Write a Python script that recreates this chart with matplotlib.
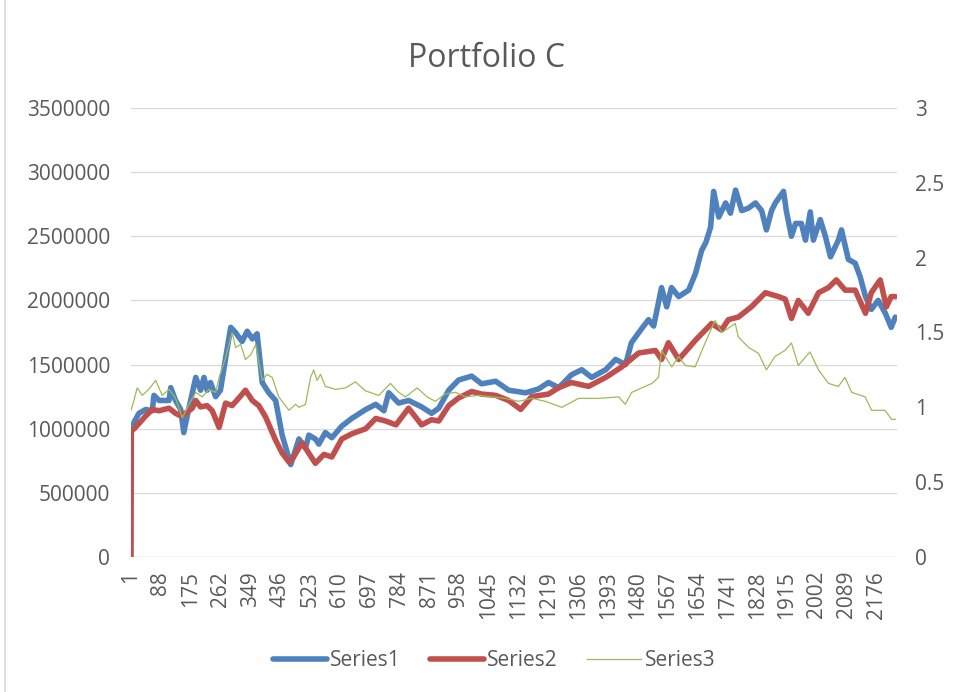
import matplotlib
matplotlib.use("Agg")
import matplotlib.pyplot as plt
from matplotlib.lines import Line2D

plt.rcParams['font.family'] = ['Open Sans', 'DejaVu Sans']

# values (day index, value)
s1_days = [1, 10, 24, 44, 63, 68, 83, 112, 117, 131, 146, 155, 165, 190, 204, 214, 223, 233,
           248, 262, 277, 292, 306, 325, 340, 355, 369, 384, 403, 423, 442, 467, 491, 510,
           520, 539, 549, 568, 587, 616, 645, 686, 715, 739, 753, 782, 811, 849, 878, 899,
           928, 957, 995, 1024, 1065, 1103, 1152, 1190, 1219, 1249, 1286, 1316, 1345, 1386,
           1415, 1444, 1461, 1491, 1511, 1526, 1549, 1564, 1578, 1599, 1628, 1648, 1666, 1678,
           1692, 1701, 1716, 1736, 1750, 1765, 1783, 1803, 1823, 1841, 1855, 1870, 1881, 1905,
           1913, 1928, 1940, 1957, 1969, 1983, 1992, 2012, 2027, 2042, 2065, 2074, 2094, 2114,
           2129, 2144, 2161, 2181, 2202, 2219, 2231]
s1_vals = [980000, 1050000, 1120000, 1150000, 1140000, 1260000, 1220000, 1220000, 1320000,
           1220000, 1150000, 970000, 1100000, 1400000, 1300000, 1400000, 1300000, 1360000,
           1250000, 1300000, 1550000, 1790000, 1750000, 1680000, 1760000, 1700000, 1740000,
           1360000, 1280000, 1220000, 950000, 720000, 920000, 850000, 950000, 920000, 880000,
           970000, 930000, 1020000, 1080000, 1150000, 1190000, 1140000, 1280000, 1200000,
           1220000, 1170000, 1120000, 1160000, 1300000, 1380000, 1410000, 1350000, 1370000,
           1300000, 1280000, 1310000, 1360000, 1320000, 1420000, 1460000, 1400000, 1460000,
           1540000, 1500000, 1670000, 1780000, 1850000, 1800000, 2100000, 1950000, 2100000,
           2030000, 2080000, 2210000, 2390000, 2450000, 2570000, 2850000, 2650000, 2760000,
           2680000, 2860000, 2700000, 2720000, 2760000, 2700000, 2550000, 2700000, 2760000,
           2850000, 2700000, 2500000, 2600000, 2600000, 2470000, 2690000, 2470000, 2630000,
           2500000, 2340000, 2470000, 2550000, 2320000, 2290000, 2180000, 2030000, 1930000,
           2000000, 1900000, 1790000, 1870000]

s2_days = [1, 2, 10, 24, 44, 63, 83, 112, 131, 146, 165, 180, 190, 204, 223, 238, 258, 277,
           296, 316, 335, 355, 374, 394, 423, 442, 462, 471, 500, 510, 539, 564, 587, 616,
           645, 686, 715, 744, 774, 811, 849, 878, 899, 928, 957, 995, 1024, 1065, 1103, 1138,
           1170, 1219, 1249, 1286, 1336, 1386, 1432, 1482, 1531, 1549, 1569, 1599, 1648, 1695,
           1724, 1744, 1773, 1811, 1852, 1890, 1910, 1928, 1948, 1977, 2007, 2036, 2059, 2085,
           2114, 2144, 2161, 2187, 2205, 2219, 2231]
s2_vals = [0, 980000, 1000000, 1040000, 1100000, 1150000, 1140000, 1160000, 1120000, 1100000,
           1130000, 1160000, 1220000, 1170000, 1180000, 1140000, 1010000, 1200000, 1180000,
           1240000, 1300000, 1220000, 1180000, 1090000, 910000, 810000, 740000, 760000, 890000,
           850000, 730000, 800000, 780000, 920000, 960000, 1000000, 1080000, 1060000, 1030000,
           1160000, 1030000, 1070000, 1060000, 1180000, 1240000, 1290000, 1270000, 1260000,
           1220000, 1150000, 1250000, 1270000, 1320000, 1360000, 1330000, 1400000, 1480000,
           1590000, 1610000, 1540000, 1670000, 1540000, 1690000, 1820000, 1770000, 1850000,
           1870000, 1950000, 2060000, 2030000, 2010000, 1860000, 2000000, 1900000, 2060000,
           2100000, 2160000, 2080000, 2080000, 1900000, 2060000, 2160000, 1950000, 2030000,
           2030000]

s3_days = [1, 10, 19, 34, 53, 73, 92, 112, 131, 151, 170, 190, 209, 228, 248, 258, 277, 296,
           306, 321, 335, 350, 365, 384, 398, 413, 432, 462, 481, 491, 510, 525, 534, 544, 554,
           568, 598, 627, 656, 685, 724, 758, 782, 802, 836, 865, 889, 918, 948, 977, 1015,
           1054, 1093, 1132, 1171, 1210, 1258, 1307, 1365, 1424, 1443, 1462, 1521, 1540, 1549,
           1579, 1599, 1618, 1647, 1676, 1705, 1725, 1764, 1773, 1803, 1832, 1855, 1880, 1909,
           1928, 1948, 1982, 2007, 2036, 2065, 2084, 2104, 2143, 2162, 2201, 2220, 2231]
s3_vals = [0.98, 1.05, 1.13, 1.08, 1.12, 1.18, 1.08, 1.12, 1.06, 0.93, 1.02, 1.10, 1.07, 1.12,
           1.10, 1.20, 1.33, 1.50, 1.40, 1.42, 1.32, 1.35, 1.42, 1.18, 1.22, 1.20, 1.07, 0.98,
           1.02, 1.00, 1.02, 1.20, 1.25, 1.18, 1.22, 1.14, 1.12, 1.13, 1.17, 1.11, 1.08, 1.16,
           1.10, 1.07, 1.13, 1.07, 1.04, 1.09, 1.10, 1.07, 1.08, 1.07, 1.06, 1.04, 1.06, 1.04,
           1.00, 1.06, 1.06, 1.07, 1.02, 1.10, 1.16, 1.20, 1.38, 1.27, 1.34, 1.28, 1.27, 1.43,
           1.58, 1.50, 1.56, 1.47, 1.40, 1.36, 1.25, 1.34, 1.38, 1.43, 1.28, 1.37, 1.25, 1.16,
           1.14, 1.20, 1.10, 1.07, 0.98, 0.98, 0.92, 0.92]

n_days = 2236
x_ticks = list(range(1, n_days, 87))
left_ticks = [0, 500000, 1000000, 1500000, 2000000, 2500000, 3000000, 3500000]
right_ticks = [0, 0.5, 1, 1.5, 2, 2.5, 3]
right_labels = ['0', '0.5', '1', '1.5', '2', '2.5', '3']

text_col = '#595959'
grid_col = '#D9D9D9'

fig = plt.figure(figsize=(9.55, 6.92), dpi=100)
ax = fig.add_axes([131 / 955, 1 - 557 / 692, (897 - 131) / 955, (557 - 108) / 692])
ax2 = ax.twinx()

ax.plot(s1_days, s1_vals, color='#4F81BD', lw=4.0, solid_joinstyle='round',
        solid_capstyle='round', label='Series1')
ax.plot(s2_days, s2_vals, color='#C0504D', lw=4.0, solid_joinstyle='round',
        solid_capstyle='round', label='Series2')
ax2.plot(s3_days, s3_vals, color='#9BBB59', lw=0.9, label='Series3')

ax.set_xlim(1, n_days)
ax.set_ylim(0, 3500000)
ax2.set_ylim(0, 3)

ax.set_xticks(x_ticks)
ax.set_xticklabels([str(t) for t in x_ticks], rotation=90)
ax.set_yticks(left_ticks)
ax.set_yticklabels([str(t) for t in left_ticks])
ax2.set_yticks(right_ticks)
ax2.set_yticklabels(right_labels)

ax.yaxis.grid(True, color=grid_col, lw=0.9)
ax.set_axisbelow(True)
for a in (ax, ax2):
    for side in ('top', 'left', 'right', 'bottom'):
        a.spines[side].set_visible(False)
ax.axhline(0, color=grid_col, lw=0.9, zorder=0.5)

ax.tick_params(axis='x', length=0, pad=10, labelsize=15, labelcolor=text_col)
ax.tick_params(axis='y', length=0, pad=15, labelsize=15, labelcolor=text_col)
ax2.tick_params(axis='y', length=0, pad=13, labelsize=15, labelcolor=text_col)

fig.text(487 / 955, 1 - 67 / 692, 'Portfolio C', ha='center', va='baseline',
         fontsize=23, color=text_col)

handles = ax.get_lines()[:2] + ax2.get_lines()[:1]
leg = fig.legend(handles, ['Series1', 'Series2', 'Series3'], loc='center',
                 bbox_to_anchor=(494 / 955, 1 - 661 / 692), ncol=3, frameon=False,
                 fontsize=15, handlelength=2.6, handletextpad=0.15, columnspacing=1.4)
for t in leg.get_texts():
    t.set_color(text_col)

# chart border on the left
fig.add_artist(Line2D([5 / 955, 5 / 955], [0, 1], color=grid_col, lw=1.2))

fig.savefig('out.png', dpi=100)
